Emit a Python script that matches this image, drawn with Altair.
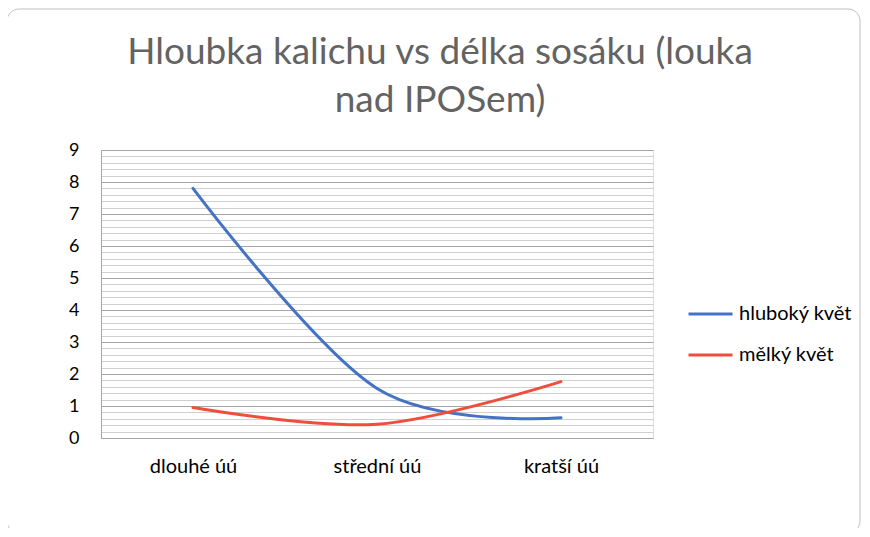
import altair as alt
import pandas as pd

categories = ["dlouhé úú", "střední úú", "kratší úú"]
series_names = ["hluboký květ", "mělký květ"]
hluboky = [7.8, 1.55, 0.63]
melky = [0.95, 0.43, 1.76]
colors = ["#4472C4", "#F04E3C"]
y_ticks = [round(i * 0.2, 1) for i in range(0, 46)]
title_lines = ["Hloubka kalichu vs délka sosáku (louka", "nad IPOSem)"]

rows = []
for s, vals in zip(series_names, [hluboky, melky]):
    for c, v in zip(categories, vals):
        rows.append({"kategorie": c, "serie": s, "hodnota": v})
df = pd.DataFrame(rows)

FONT = "Lato"
W, H = 552, 288
one = pd.DataFrame({"a": [0]})

border = alt.Chart(one).mark_rect(
    fillOpacity=0, stroke="#bfbfbf", strokeWidth=1, cornerRadius=12
).encode(
    x=alt.value(-94), x2=alt.value(759), y=alt.value(-141), y2=alt.value(383)
)

title1 = alt.Chart(one).mark_text(
    text=title_lines[0], font=FONT, fontSize=37, color="#636363",
    align="center", baseline="alphabetic"
).encode(x=alt.value(339), y=alt.value(-86))

title2 = alt.Chart(one).mark_text(
    text=title_lines[1], font=FONT, fontSize=37, color="#636363",
    align="center", baseline="alphabetic"
).encode(x=alt.value(339), y=alt.value(-38))

lines = alt.Chart(df).mark_line(
    interpolate="cardinal", tension=0, strokeWidth=3, strokeCap="round"
).encode(
    x=alt.X("kategorie:N", sort=categories,
            scale=alt.Scale(type="point", padding=0.5),
            axis=alt.Axis(title=None, labelAngle=0, ticks=False, grid=False,
                          domainColor="#a6a6a6", domainWidth=1,
                          labelFontSize=20, labelColor="#000000", labelFont=FONT,
                          labelPadding=18)),
    y=alt.Y("hodnota:Q", scale=alt.Scale(domain=[0, 9], nice=False),
            axis=alt.Axis(title=None, values=y_ticks, ticks=False,
                          labelExpr="abs(datum.value - round(datum.value)) < 0.01 ? '' + round(datum.value) : ''",
                          labelOverlap=False, labelFontSize=18, labelColor="#000000",
                          labelFont=FONT, labelPadding=22,
                          domainColor="#a6a6a6", domainWidth=1,
                          gridColor=alt.condition("abs(datum.value - round(datum.value)) < 0.01",
                                                  alt.value("#a6a6a6"), alt.value("#d0d0d0")),
                          gridWidth=1)),
    color=alt.Color("serie:N", sort=series_names,
                    scale=alt.Scale(domain=series_names, range=colors),
                    legend=alt.Legend(title=None, orient="none", legendX=586, legendY=153,
                                      symbolType="stroke", symbolSize=1936, symbolStrokeWidth=3,
                                      clipHeight=22, rowPadding=19,
                                      labelFontSize=20, labelFont=FONT, labelColor="#000000",
                                      labelOffset=5)),
)

chart = alt.layer(border, title1, title2, lines).properties(
    width=W, height=H,
    autosize=alt.AutoSizeParams(type="none"),
    padding={"left": 93, "top": 142, "right": 209, "bottom": 90},
).configure_view(stroke=None).configure(background="white")

chart.save("out.html", embed_options={"renderer": "svg", "actions": False})
